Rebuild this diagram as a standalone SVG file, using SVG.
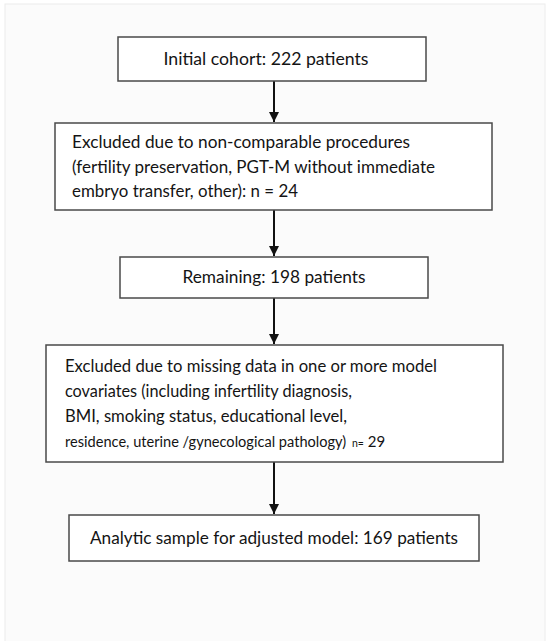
<svg xmlns="http://www.w3.org/2000/svg" width="550" height="641" viewBox="0 0 550 641">
  <defs>
    <style>
      .box { fill: #ffffff; stroke: #4a4a4a; stroke-width: 1.5; }
      .t { font-family: Lato, "Open Sans", "Noto Sans", sans-serif; font-size: 16.5px; fill: #141414; }
      .s { font-size: 14.6px; }
      .xs { font-size: 10.5px; }
      .n { font-size: 15px; }
      .c { text-anchor: middle; }
      .edge { stroke: #111; stroke-width: 2; fill: none; marker-end: url(#arrow); }
    </style>
    <marker id="arrow" viewBox="0 0 10 10" refX="10" refY="5" markerWidth="10" markerHeight="10" markerUnits="userSpaceOnUse" orient="auto">
      <path d="M0,0 L10,5 L0,10 z" fill="#111"/>
    </marker>
  </defs>
  <rect x="0" y="0" width="550" height="641" fill="#ffffff"/>
  <rect x="5" y="4" width="540" height="645" fill="#fbfbfb" stroke="#ececec" stroke-width="1"/>

  <g id="connectors">
    <line class="edge" x1="274" y1="81" x2="274" y2="122"/>
    <line class="edge" x1="274" y1="210" x2="274" y2="256"/>
    <line class="edge" x1="274" y1="298" x2="274" y2="344"/>
    <line class="edge" x1="274" y1="462" x2="274" y2="514"/>
  </g>

  <g id="initial">
    <rect class="box" x="118" y="37" width="308" height="44"/>
    <text class="t c" x="266" y="65" textLength="205" lengthAdjust="spacingAndGlyphs">Initial cohort: 222 patients</text>
  </g>

  <g id="excluded1">
    <rect class="box" x="55" y="123" width="437" height="87"/>
    <text class="t" x="72" y="148" textLength="338" lengthAdjust="spacingAndGlyphs">Excluded due to non-comparable procedures</text>
    <text class="t" x="72" y="173" textLength="363" lengthAdjust="spacingAndGlyphs">(fertility preservation, PGT-M without immediate</text>
    <text class="t" x="72" y="197" textLength="226" lengthAdjust="spacingAndGlyphs">embryo transfer, other): n = 24</text>
  </g>

  <g id="remaining">
    <rect class="box" x="120" y="257" width="308" height="41"/>
    <text class="t c" x="274" y="283" textLength="183" lengthAdjust="spacingAndGlyphs">Remaining: 198 patients</text>
  </g>

  <g id="excluded2">
    <rect class="box" x="46" y="345" width="457" height="117"/>
    <text class="t" x="65" y="372" textLength="372" lengthAdjust="spacingAndGlyphs">Excluded due to missing data in one or more model</text>
    <text class="t" x="65" y="397" textLength="287" lengthAdjust="spacingAndGlyphs">covariates (including infertility diagnosis,</text>
    <text class="t" x="65" y="422" textLength="282" lengthAdjust="spacingAndGlyphs">BMI, smoking status, educational level,</text>
    <text class="t s" x="65" y="447">residence, uterine /gynecological pathology)</text>
    <text class="t n" x="352" y="447"><tspan class="xs">n=</tspan> 29</text>
  </g>

  <g id="analytic">
    <rect class="box" x="69" y="515" width="410" height="46"/>
    <text class="t c" x="274" y="544" textLength="368" lengthAdjust="spacingAndGlyphs">Analytic sample for adjusted model: 169 patients</text>
  </g>
</svg>
